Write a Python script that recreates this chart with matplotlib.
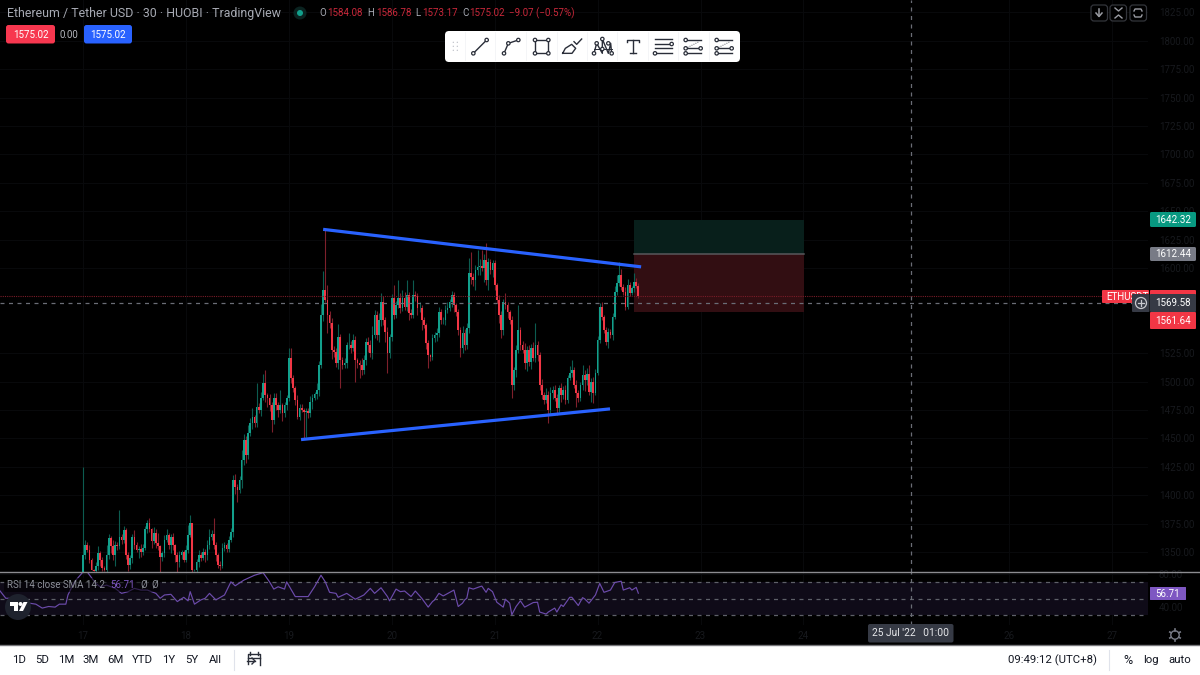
import matplotlib
matplotlib.use('Agg')
import matplotlib.pyplot as plt
from matplotlib.patches import FancyBboxPatch, Rectangle, Circle, Polygon

plt.rcParams['font.family'] = ['Roboto', 'DejaVu Sans']

# ETH/USDT 30 minute closes, one row block per day from 17 Jul
first_open = 1320
closes = [
    1347, 1356, 1352, 1343, 1334, 1333, 1338, 1349, 1343, 1336,
    1334, 1347, 1362, 1355, 1347, 1356, 1355, 1363, 1361, 1369,
    1347, 1339, 1345, 1363, 1356, 1352, 1353, 1350, 1354, 1370,
    1376, 1370, 1360, 1367, 1358, 1355, 1346, 1349, 1361, 1365,
    1356, 1363, 1356, 1347, 1341, 1347, 1350, 1343,
    # 18th
    1352, 1365, 1376, 1334, 1334, 1341, 1347, 1345, 1350, 1347,
    1356, 1363, 1366, 1356, 1347, 1339, 1338, 1354, 1356, 1353,
    1361, 1368, 1413, 1407, 1405, 1413, 1431, 1449, 1435, 1455,
    1464, 1469, 1464, 1478, 1475, 1486, 1499, 1488, 1486, 1479,
    1466, 1486, 1479, 1475, 1479, 1472, 1479, 1486,
    # 19th
    1521, 1503, 1494, 1484, 1469, 1477, 1475, 1473, 1474, 1472,
    1482, 1486, 1489, 1493, 1515, 1559, 1581, 1572, 1559, 1552,
    1528, 1526, 1516, 1539, 1519, 1515, 1516, 1532, 1532, 1530,
    1537, 1519, 1516, 1515, 1510, 1519, 1535, 1532, 1525, 1541,
    1559, 1541, 1554, 1570, 1554, 1544, 1525, 1539,
    # 20th
    1574, 1559, 1567, 1574, 1565, 1574, 1566, 1576, 1560, 1559,
    1576, 1575, 1565, 1565, 1554, 1550, 1534, 1523, 1522, 1538,
    1541, 1543, 1561, 1554, 1554, 1563, 1565, 1570, 1576, 1567,
    1561, 1545, 1530, 1543, 1532, 1547, 1596, 1592, 1589, 1598,
    1601, 1602, 1600, 1607, 1589, 1605, 1598, 1604,
    # 21st
    1585, 1572, 1559, 1545, 1570, 1567, 1561, 1554, 1497, 1510,
    1528, 1545, 1532, 1528, 1516, 1528, 1517, 1530, 1521, 1532,
    1523, 1497, 1488, 1484, 1488, 1475, 1490, 1493, 1486, 1477,
    1494, 1488, 1493, 1484, 1503, 1508, 1510, 1497, 1490, 1486,
    1497, 1506, 1501, 1507, 1491, 1500, 1490, 1508,
    # 22nd
    1537, 1566, 1557, 1545, 1535, 1544, 1541, 1557, 1579, 1587,
    1594, 1583, 1579, 1566, 1585, 1578, 1582, 1588, 1584.08, 1575.02,
]
# wick lengths above and below each candle body
upper_wicks = [
    78, 5, 3, 4, 2, 1, 3, 6, 2, 3,
    2, 9, 4, 2, 6, 4, 3, 24, 3, 4,
    2, 3, 2, 3, 6, 3, 2, 4, 3, 3,
    2, 4, 1, 5, 3, 9, 1, 2, 4, 5,
    2, 3, 4, 1, 3, 4, 2, 2,
    4, 9, 7, 0, 1, 3, 5, 3, 4, 3,
    5, 7, 3, 14, 3, 2, 3, 4, 3, 2,
    3, 3, 5, 6, 3, 4, 9, 5, 3, 7,
    4, 8, 2, 21, 3, 5, 8, 11, 2, 3,
    3, 4, 4, 3, 14, 2, 3, 2,
    9, 9, 3, 2, 4, 3, 3, 2, 3, 3,
    5, 3, 2, 6, 3, 9, 16, 53, 13, 3,
    4, 3, 4, 12, 3, 3, 5, 3, 11, 4,
    5, 3, 2, 3, 6, 4, 3, 4, 5, 8,
    4, 3, 6, 8, 5, 3, 4, 3,
    3, 11, 4, 15, 4, 7, 5, 13, 3, 4,
    13, 4, 3, 5, 2, 3, 2, 3, 1, 4,
    3, 4, 5, 3, 3, 4, 5, 3, 4, 3,
    2, 3, 3, 6, 3, 5, 13, 18, 4, 5,
    15, 6, 14, 5, 15, 4, 3, 3,
    3, 2, 4, 3, 3, 8, 3, 2, 4, 3,
    4, 22, 3, 4, 6, 3, 4, 3, 5, 20,
    4, 3, 5, 3, 6, 4, 5, 3, 4, 3,
    3, 5, 3, 4, 3, 6, 9, 3, 4, 3,
    3, 9, 4, 5, 8, 3, 4, 3,
    3, 3, 4, 2, 3, 3, 2, 3, 5, 7,
    11, 5, 3, 4, 5, 3, 2, 8, 3, 2.7,
]
lower_wicks = [
    0, 3, 2, 3, 0, 0, 2, 4, 5, 3,
    1, 4, 3, 6, 4, 9, 3, 2, 4, 3,
    3, 6, 4, 5, 3, 2, 7, 4, 3, 2,
    3, 2, 6, 3, 4, 3, 18, 4, 3, 2,
    3, 7, 4, 6, 9, 4, 3, 2,
    2, 3, 2, 2, 1, 3, 4, 3, 2, 6,
    4, 3, 2, 3, 5, 3, 4, 2, 3, 3,
    3, 2, 5, 6, 11, 3, 7, 4, 7, 3,
    3, 6, 4, 4, 3, 5, 2, 6, 8, 5,
    10, 3, 4, 6, 3, 7, 3, 4,
    3, 4, 3, 5, 2, 3, 2, 23, 22, 4,
    3, 6, 2, 4, 6, 3, 6, 2, 16, 5,
    8, 4, 3, 5, 25, 4, 3, 4, 3, 5,
    3, 19, 4, 12, 4, 3, 4, 6, 3, 5,
    3, 4, 6, 5, 4, 9, 17, 4,
    3, 4, 3, 2, 5, 3, 3, 4, 6, 3,
    3, 4, 6, 4, 9, 3, 5, 11, 4, 3,
    3, 5, 4, 3, 3, 4, 3, 3, 4, 6,
    3, 4, 8, 5, 4, 3, 4, 6, 5, 8,
    4, 7, 3, 12, 4, 8, 3, 6,
    4, 3, 7, 7, 4, 3, 5, 3, 11, 4,
    6, 3, 4, 3, 5, 7, 3, 6, 3, 4,
    5, 4, 3, 4, 3, 11, 4, 5, 3, 6,
    4, 6, 3, 4, 3, 2, 4, 3, 12, 4,
    3, 4, 9, 4, 3, 9, 9, 2,
    2, 3, 3, 2, 3, 5, 3, 4, 2, 3,
    3, 2, 3, 3, 2, 3, 2, 3, 2, 1.85,
]

# RSI(14): half-hour bar numbers counted from 17 Jul 00:00, and their readings
rsi_bars = [
    -39, -36, -31, -28, -25, -22, -19, -16, -13, -11,
    -8, -7, -4, 0, 2, 6, 8, 11, 15, 18,
    21, 24, 27, 30, 34, 36, 38, 41, 44, 47,
    49, 50, 52, 55, 57, 59, 62, 66, 69, 71,
    75, 80, 84, 87, 89, 91, 94, 95, 99, 101,
    105, 108, 111, 113, 115, 118, 119, 123, 127, 131,
    134, 136, 139, 142, 143, 146, 148,
    150, 153, 155, 158, 161, 163, 164, 166, 168, 173,
    175, 177, 178, 179, 180, 182, 185, 186, 188, 189,
    191, 193, 196, 197, 199, 200, 202, 204, 206, 210,
    212, 213, 216, 217, 220, 221, 223, 224, 227, 228,
    231, 233, 234, 236, 239, 241, 243, 246, 248, 251,
    252, 255, 256, 258, 259,
]
rsi_values = [
    60.6, 50.4, 50.4, 50.4, 44.3, 43.1, 38.2, 40.2, 39.4, 43.1,
    43.1, 54.5, 70.8, 83, 83, 68.8, 64.7, 66.7, 62.7, 56.5,
    58.6, 62.7, 60.6, 60.6, 56.5, 50.4, 54.5, 55.3, 46.3, 51.6,
    47.2, 58.6, 43.1, 48.4, 50.4, 56.5, 48.4, 54.5, 70.8, 65.9,
    72.9, 79, 82.2, 70.8, 61.8, 64.7, 61.8, 70.8, 52.5, 52.5,
    52.5, 64.7, 79, 70.8, 57.8, 56.5, 51.6, 56.5, 49.2, 54.5,
    62.7, 56.5, 63.5, 52.5, 47.2, 61.8, 58.6,
    59.4, 52.5, 59.4, 50.4, 39.4, 46.3, 48.4, 56.5, 53.3, 60.6,
    40.2, 44.3, 48.4, 50.4, 63.5, 61.8, 64.7, 65.5, 57.8, 62.7,
    58.6, 45.5, 39.4, 49.2, 44.3, 30, 40.2, 47.2, 39.4, 45.1,
    45.5, 33.3, 30.8, 33.3, 38.2, 33.3, 42.3, 40.2, 51.6, 51.6,
    41.4, 51.2, 49.6, 44.3, 54.5, 68.8, 57.8, 60.6, 70, 71.6,
    60.6, 63.5, 60.6, 63.9, 56.71,
]

# trend lines as (bar, price) ends, and the long position levels
top_line_bars = [112, 260.3]
top_line_prices = [1634, 1601]
low_line_bars = [101.7, 245.8]
low_line_prices = [1449, 1476]
position_bars = [257, 336.3]
target_price = 1642.32
entry_price = 1612.44
stop_price = 1561.64
last_price = 1575.02
cursor_price = 1569.58
cursor_bar = 386

# 1550 and 1575 sit behind the price badges, 60 behind the RSI badge, 25 behind the time badge
price_ticks = [p for p in range(1350, 1826, 25) if p not in (1550, 1575)]
rsi_ticks = [40, 80]
day_ticks = [0, 48, 96, 144, 192, 240, 288, 336, 432, 480]
day_labels = ['17', '18', '19', '20', '21', '22', '23', '24', '26', '27']

UP = '#12a08c'
DOWN = '#f23645'
UP_WICK = '#0c5c50'
DOWN_WICK = '#7e202b'
DIM = '#17191d'
GREY = '#787b86'
PURPLE = '#7e57c2'
BLUE = '#2962ff'
DARK = '#363a45'

opens = [first_open] + closes[:-1]
bars = list(range(len(closes)))
tops = [max(o, c) for o, c in zip(opens, closes)]
bottoms = [min(o, c) for o, c in zip(opens, closes)]
highs = [t + w for t, w in zip(tops, upper_wicks)]
lows = [b - w for b, w in zip(bottoms, lower_wicks)]
body_colors = [UP if c >= o else DOWN for o, c in zip(opens, closes)]
wick_colors = [UP_WICK if c >= o else DOWN_WICK for o, c in zip(opens, closes)]
heights = [t - b for t, b in zip(tops, bottoms)]

W, H = 1200, 675
fig = plt.figure(figsize=(12, 6.75), dpi=100, facecolor='black')
xlim = (-38.7, 496.7)
cross_dash = (0, (3.2, 3.6))


def pane(top, bottom):
    a = fig.add_axes([0, 1 - bottom / H, 1148 / W, (bottom - top) / H])
    a.set_facecolor('black')
    a.set_xlim(*xlim)
    for s in a.spines.values():
        s.set_visible(False)
    a.yaxis.tick_right()
    a.tick_params(axis='both', length=0, labelsize=7, labelcolor=DIM)
    a.tick_params(axis='y', pad=7.8)
    a.set_xticks(day_ticks)
    a.grid(True, color='#08090b', lw=0.8)
    a.set_axisbelow(True)
    return a


# price pane
ax = pane(0, 571.5)
ax.set_ylim(1332.9, 1835.84)
ax.set_yticks(price_ticks)
ax.set_yticklabels(['%.2f' % p for p in price_ticks])
ax.set_xticklabels([])

ax.add_patch(Rectangle((position_bars[0], entry_price), position_bars[1] - position_bars[0],
                       target_price - entry_price, color='#081f1b', lw=0, zorder=1))
ax.add_patch(Rectangle((position_bars[0], stop_price), position_bars[1] - position_bars[0],
                       entry_price - stop_price, color='#320e12', lw=0, zorder=1))
ax.plot(position_bars, [entry_price, entry_price], color='#58585c', lw=1.1, zorder=1.5)

ax.vlines(bars, lows, highs, colors=wick_colors, lw=0.8, zorder=2)
ax.bar(bars, heights, bottom=bottoms, width=0.78, color=body_colors, lw=0, zorder=3)

ax.axhline(last_price, color='#7a1c28', lw=0.8, ls=(0, (1, 1)), zorder=4)
ax.axhline(cursor_price, color='#6a6d76', lw=0.9, ls=cross_dash, zorder=4)
ax.axvline(cursor_bar, color='#6a6d76', lw=0.9, ls=cross_dash, zorder=4)
ax.plot(top_line_bars, top_line_prices, color=BLUE, lw=2.3, solid_capstyle='butt', zorder=5)
ax.plot(low_line_bars, low_line_prices, color=BLUE, lw=2.3, solid_capstyle='butt', zorder=5)

# RSI pane
rsi = pane(572, 625)
rsi.set_ylim(17.2, 83.04)
rsi.set_yticks(rsi_ticks)
rsi.set_yticklabels(['%.2f' % v for v in rsi_ticks])
rsi.set_xticklabels(day_labels)
rsi.tick_params(axis='x', pad=4)
rsi.axhspan(30, 70, color='#0f0b18', lw=0, zorder=1)
for level in [30, 50, 70]:
    rsi.axhline(level, color='#5e6068', lw=0.9, ls=cross_dash, zorder=2)
rsi.axvline(cursor_bar, color='#6a6d76', lw=0.9, ls=cross_dash, zorder=2)
rsi.plot(rsi_bars, rsi_values, color='#6c4bab', lw=0.85, zorder=3)

# interface layer, measured in screen pixels
ui = fig.add_axes([0, 0, 1, 1], facecolor='none', zorder=10)
ui.set_xlim(0, W)
ui.set_ylim(H, 0)
ui.axis('off')


def box(x0, y0, x1, y1, color, r=1.5, edge='none', lw=0, z=2, alpha=None):
    ui.add_patch(FancyBboxPatch((x0 + r, y0 + r), x1 - x0 - 2 * r, y1 - y0 - 2 * r,
                                boxstyle='round,pad=%s,rounding_size=%s' % (r, r),
                                fc=color, ec=edge, lw=lw, zorder=z, alpha=alpha))


def label(x, y, s, color='white', size=7, ha='center', z=6):
    ui.text(x, y, s, color=color, fontsize=size, ha=ha, va='center', zorder=z)


# pane borders and bottom bar
ui.plot([0, W], [571.5, 571.5], color='#8c8c90', lw=1, zorder=1)
ui.add_patch(Rectangle((0, 646), W, 29, color='white', lw=0, zorder=2))
ui.plot([0, W], [645.3, 645.3], color='#77777b', lw=1, zorder=3)

# legend row
label(7, 13.5, 'Ethereum / Tether USD · 30 · HUOBI · TradingView', color='#a6a9b2', size=8.95, ha='left')
ui.add_patch(Circle((300, 13), 6.5, color='#0a2320', lw=0, zorder=3))
ui.add_patch(Circle((300, 13), 3, color='#12a08c', lw=0, zorder=4))
for x_letter, letter, x_value, value in [(319, 'O', 327, '1584.08'), (367, 'H', 376, '1586.78'),
                                         (415, 'L', 422, '1573.17'), (462, 'C', 469, '1575.02')]:
    label(x_letter, 13.5, letter, color='#a6a9b2', ha='left')
    label(x_value, 13.5, value, color='#c9283a', ha='left')
label(509, 13.5, '−9.07 (−0.57%)', color='#c9283a', ha='left')

box(6, 25, 55, 43.5, '#f7374f', r=2.5)
label(30.5, 34.5, '1575.02')
label(69, 34.5, '0.00', color='#b5b7bd')
box(84, 25, 132, 43.5, BLUE, r=2.5)
label(108, 34.5, '1575.02')

# chart buttons, top right
for x0 in [1091, 1110, 1130]:
    box(x0, 5, x0 + 16.5, 21, 'black', r=3, edge='#33353b', lw=0.9)
ui.plot([1099, 1099], [9, 16], color='#9a9ca3', lw=1.1, zorder=4)
ui.plot([1096, 1099, 1102], [13, 16.5, 13], color='#9a9ca3', lw=1.1, zorder=4)
ui.plot([1115, 1118.5, 1122], [8, 11, 8], color='#9a9ca3', lw=1, zorder=4)
ui.plot([1115, 1118.5, 1122], [18, 15, 18], color='#9a9ca3', lw=1, zorder=4)
ui.plot([1134, 1135, 1141, 1142], [11, 9, 9, 11], color='#9a9ca3', lw=1, zorder=4)
ui.plot([1134, 1135, 1141, 1142], [15, 17, 17, 15], color='#9a9ca3', lw=1, zorder=4)

# drawing toolbar
box(445, 31, 740, 62, 'white', r=4)


def tb(zx, zy):
    return 440 + zx / 3, 25 + zy / 3


def stroke(points, lw=1.0, color='#2a2e39', **kw):
    xy = [tb(*p) for p in points]
    ui.plot([p[0] for p in xy], [p[1] for p in xy], color=color, lw=lw, zorder=4, **kw)


def node(zx, zy):
    ui.add_patch(Circle(tb(zx, zy), 1.7, fc='white', ec='#2a2e39', lw=0.9, zorder=5))


for zx in [75, 165, 258, 350, 440, 532, 625, 715, 808]:
    stroke([(zx, 22), (zx, 105)], lw=0.5, color='#f0f1f4')
for zx in [40, 52]:
    for zy in [52, 64, 76]:
        ui.add_patch(Circle(tb(zx, zy), 0.7, color='#c3c5cc', lw=0, zorder=5))

stroke([(100, 85), (140, 45)])
node(100, 85), node(140, 45)
stroke([(192, 85), (205, 55), (235, 45)])
node(192, 85), node(205, 55), node(235, 45)
stroke([(285, 45), (325, 45), (325, 85), (285, 85), (285, 45)])
for p in [(285, 45), (325, 45), (325, 85), (285, 85)]:
    node(*p)
stroke([(368, 85), (376, 70), (395, 58), (407, 70), (396, 85), (368, 85)])
stroke([(402, 50), (410, 58), (425, 42)])
stroke([(462, 85), (470, 55), (487, 85), (487, 42), (505, 85), (512, 55), (515, 85)])
stroke([(462, 72), (515, 72)], lw=0.7)
for p in [(462, 85), (470, 55), (487, 42), (505, 55), (515, 85), (487, 72)]:
    node(*p)
stroke([(562, 52), (562, 45), (597, 45), (597, 52)])
stroke([(580, 45), (580, 85)])
stroke([(571, 85), (589, 85)])
for zy in [42, 70]:
    stroke([(645, zy), (697, zy)])
stroke([(645, 57), (690, 57)])
stroke([(650, 85), (697, 85)])
node(695, 57), node(645, 85)
for z0 in [737, 830]:
    stroke([(z0, 45), (z0 + 47, 45)])
    stroke([(z0, 70), (z0 + 47, 70)])
    stroke([(z0, 85), (z0 + 47, 85)])
    stroke([(z0, 70), (z0 + 40, 50)], lw=0.6, ls=':')
    node(z0, 45), node(z0 + 45, 70), node(z0, 85)
    node(z0, 70)

# price scale badges
box(1150, 212, 1196, 227, '#089981')
label(1173, 219.7, '1642.32')
box(1150, 247, 1196, 261, GREY)
label(1173, 254.2, '1612.44')
box(1102, 290, 1149, 303, DOWN, r=1)
label(1106, 296.7, 'ETHUSDT', ha='left', z=3)
box(1150, 290, 1196, 303, DOWN, r=1)
box(1150, 294, 1196, 312, DARK, r=1, z=4)
label(1173, 303, '1569.58')
box(1132, 294, 1149.5, 312, DARK, r=1, z=4)
ui.add_patch(Circle((1141, 303), 5.5, fc='none', ec='#c8c9ce', lw=0.9, zorder=5))
ui.plot([1138, 1144], [303, 303], color='#c8c9ce', lw=0.9, zorder=5)
ui.plot([1141, 1141], [300, 306], color='#c8c9ce', lw=0.9, zorder=5)
box(1150, 312, 1196, 329, DOWN, r=1)
label(1173, 320.7, '1561.64')
box(1150, 587, 1186, 600, PURPLE, r=0.5)
label(1168, 593.7, '56.71')

# indicator legend, the backing dims the RSI line under it, and logo
box(4, 578, 160, 592, 'black', r=1, alpha=0.55, z=1)
label(7, 585, 'RSI 14 close SMA 14 2', color='#8d9099', ha='left')
label(110, 585, '56.71', color=PURPLE, ha='left')
label(140, 585, 'Ø', color='#8d9099', ha='left')
label(151, 585, 'Ø', color='#8d9099', ha='left')
ui.add_patch(Circle((18, 607), 13, color='#1e222d', lw=0, zorder=4))
ui.add_patch(Polygon([(10, 602), (18, 602), (18, 611), (14, 611), (14, 606), (10, 606)], color='white', lw=0, zorder=5))
ui.add_patch(Circle((20.5, 604), 2, color='white', lw=0, zorder=5))
ui.add_patch(Polygon([(23.5, 602), (27.5, 602), (23, 611), (19, 611)], color='white', lw=0, zorder=5))

# cursor time badge and gear
box(868, 624, 953.5, 642.5, DARK, r=2)
label(910.5, 633.3, "25 Jul '22   01:00", color='#e6e7ea', size=7.4)
ui.add_patch(Circle((1175, 635), 4.2, fc='none', ec='#787b86', lw=1, zorder=5))
for dx, dy in [(0, -6), (0, 6), (5.2, -3), (5.2, 3), (-5.2, -3), (-5.2, 3)]:
    ui.plot([1175 + dx * 0.75, 1175 + dx], [635 + dy * 0.75, 635 + dy], color='#787b86', lw=1.2, zorder=5)

# bottom bar
for x, s in zip([19, 42, 66.7, 91, 115, 142, 169, 192, 215],
                ['1D', '5D', '1M', '3M', '6M', 'YTD', '1Y', '5Y', 'All']):
    label(x, 660, s, color='#131722', size=8.2)
ui.plot([234, 234], [650, 670], color='#e0e3eb', lw=0.8, zorder=4)
ui.plot([248, 248, 260, 260], [664, 654, 654, 665], color='#2a2e39', lw=1, zorder=4)
ui.plot([248, 260], [658, 658], color='#2a2e39', lw=1, zorder=4)
ui.plot([250, 250], [652, 655], color='#2a2e39', lw=1, zorder=4)
ui.plot([258, 258], [652, 655], color='#2a2e39', lw=1, zorder=4)
ui.plot([247, 255], [661, 661], color='#2a2e39', lw=1, zorder=4)
ui.plot([252, 255, 252], [658, 661, 664], color='#2a2e39', lw=1, zorder=4)
label(1053, 660, '09:49:12 (UTC+8)', color='#131722', size=8.2)
ui.plot([1109, 1109], [650, 670], color='#e0e3eb', lw=0.8, zorder=4)
label(1128, 660, '%', color='#131722', size=9)
label(1151, 660, 'log', color='#131722', size=8.2)
label(1180, 660, 'auto', color='#131722', size=8.2)

fig.savefig('out.png', dpi=100, facecolor='black')
